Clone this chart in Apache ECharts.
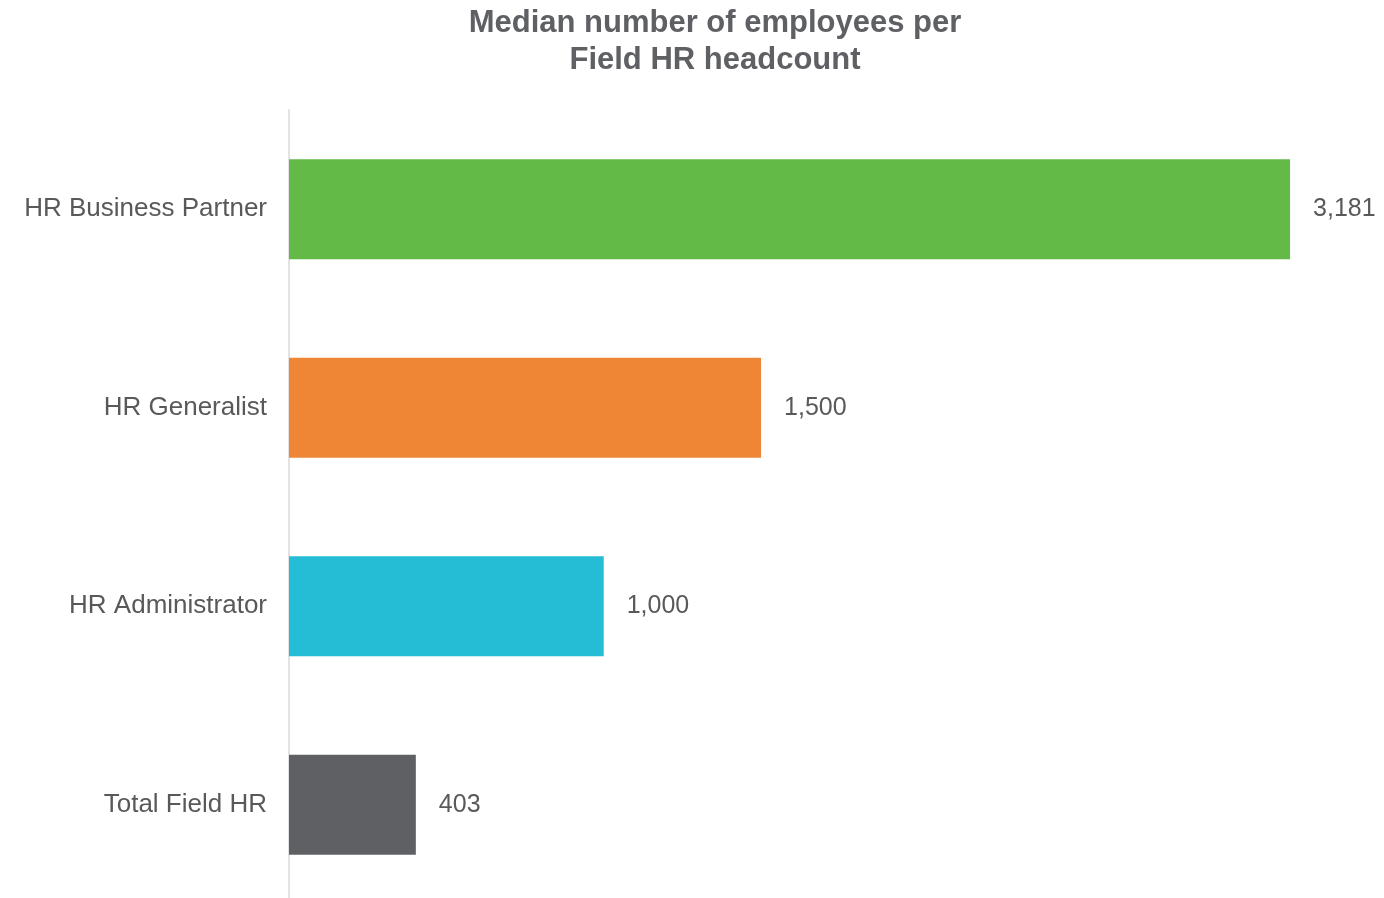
<!DOCTYPE html>
<html>
<head>
<meta charset="utf-8">
<script src="https://cdn.jsdelivr.net/npm/echarts@6/dist/echarts.min.js"></script>
<style>
html,body{margin:0;padding:0;background:#fff;}
#chart{width:1384px;height:898px;}
</style>
</head>
<body>
<div id="chart"></div>
<script>
var categories = ['Total Field HR', 'HR Administrator', 'HR Generalist', 'HR Business Partner'];
var values = [403, 1000, 1500, 3181];
var colors = ['#5f6064', '#25bdd6', '#ef8636', '#63ba47'];
var titleText = 'Median number of employees per\nField HR headcount';
var FONT = '"Liberation Sans", Arial, sans-serif';

var chart = echarts.init(document.getElementById('chart'));
chart.setOption({
  animation: false,
  title: {
    text: titleText,
    left: 710,
    textAlign: 'center',
    top: 0,
    textStyle: {
      fontFamily: FONT,
      fontSize: 31,
      fontWeight: 'bold',
      color: '#5f6064',
      lineHeight: 37
    }
  },
  grid: {
    left: 289,
    top: 110,
    height: 794,
    width: 1070,
    containLabel: false,
    outerBoundsMode: 'none'
  },
  xAxis: {
    type: 'value',
    min: 0,
    max: 3400,
    show: false
  },
  yAxis: {
    type: 'category',
    data: categories,
    axisLine: { show: true, lineStyle: { color: '#e3e3e3', width: 2 } },
    axisTick: { show: false },
    axisLabel: {
      fontFamily: FONT,
      fontSize: 26,
      color: '#595959',
      margin: 22
    }
  },
  series: [{
    type: 'bar',
    data: values.map(function (v, i) { return { value: v, itemStyle: { color: colors[i] } }; }),
    barWidth: 100,
    label: {
      show: true,
      position: 'right',
      distance: 23,
      fontFamily: FONT,
      fontSize: 25,
      color: '#595959',
      formatter: function (p) { return p.value.toLocaleString('en-US'); }
    }
  }]
});
</script>
</body>
</html>
